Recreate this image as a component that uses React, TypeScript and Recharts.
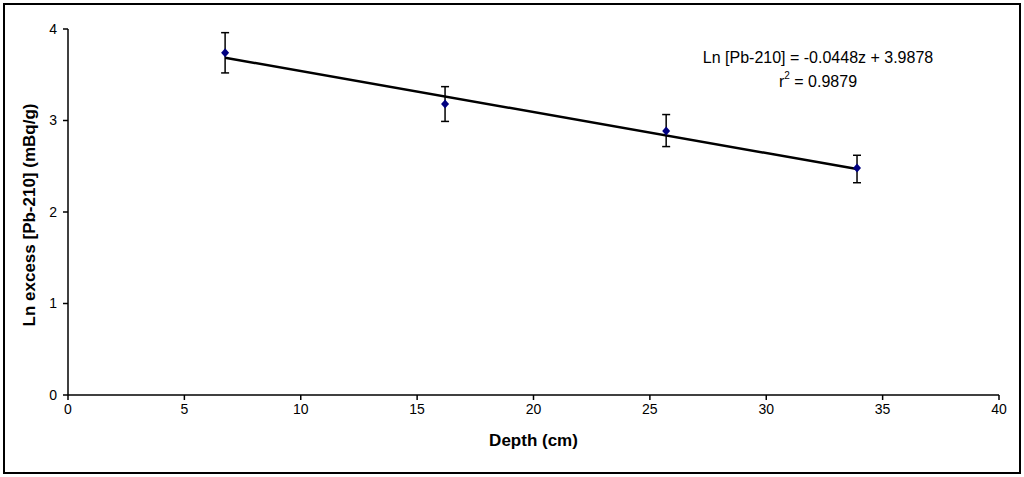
import { ScatterChart, Scatter, XAxis, YAxis, ZAxis, ErrorBar } from 'recharts'

// values
const depth = [6.75, 16.2, 25.7, 33.9]
const lnExcess = [3.74, 3.18, 2.885, 2.48]
const errLow = [0.22, 0.19, 0.17, 0.16]
const errHigh = [0.22, 0.19, 0.18, 0.14]

// regression line end points (Ln [Pb-210] = -0.0448z + 3.9878)
const trendDepth = [6.75, 33.9]
const trendLn = [3.686, 2.469]

const xTicks = [0, 5, 10, 15, 20, 25, 30, 35, 40]
const yTicks = [0, 1, 2, 3, 4]

const points = depth.map((d, i) => ({
  depth: d,
  ln: lnExcess[i],
  err: [errLow[i], errHigh[i]],
}))
const trend = trendDepth.map((d, i) => ({ depth: d, ln: trendLn[i] }))

const font = '"Liberation Sans", Arial, sans-serif'
const tick = { fill: '#000', fontSize: 14, fontFamily: font }

const Diamond = (props: any) => {
  const { cx, cy } = props
  return (
    <polygon
      points={`${cx},${cy - 4.5} ${cx + 4},${cy} ${cx},${cy + 4.5} ${cx - 4},${cy}`}
      fill="#000080"
    />
  )
}

export default function App() {
  return (
    <div style={{ position: 'absolute', left: 0, top: 0, width: 1024, height: 477, background: '#fff', fontFamily: font }}>
      <div
        style={{
          position: 'absolute',
          left: 3,
          top: 3,
          width: 1014,
          height: 467,
          border: '2px solid #000',
        }}
      />
      <ScatterChart
        width={1024}
        height={477}
        margin={{ top: 29, right: 25, bottom: 22, left: 20 }}
        style={{ position: 'absolute', left: 0, top: 0 }}
      >
        <XAxis
          type="number"
          dataKey="depth"
          domain={[0, 40]}
          ticks={xTicks}
          interval={0}
          height={60}
          tick={tick}
          tickSize={5}
          tickMargin={4}
          stroke="#000"
          strokeWidth={1.5}
          allowDataOverflow
          label={{
            value: 'Depth (cm)',
            position: 'insideBottom',
            offset: 9,
            style: { fill: '#000', fontSize: 17, fontWeight: 'bold', fontFamily: font },
          }}
        />
        <YAxis
          type="number"
          dataKey="ln"
          domain={[0, 4]}
          ticks={yTicks}
          interval={0}
          width={48}
          tick={tick}
          tickSize={5}
          tickMargin={6}
          stroke="#000"
          strokeWidth={1.5}
          allowDataOverflow
        />
        <ZAxis range={[40, 40]} />
        <Scatter
          data={trend}
          line={{ stroke: '#000', strokeWidth: 2.5 }}
          shape={() => <g />}
          isAnimationActive={false}
        />
        <Scatter data={points} shape={Diamond} isAnimationActive={false}>
          <ErrorBar dataKey="err" direction="y" width={4} stroke="#000" strokeWidth={1.5} />
        </Scatter>
      </ScatterChart>
      <div
        style={{
          position: 'absolute',
          left: 30,
          top: 215,
          transform: 'translate(-50%, -50%) rotate(-90deg)',
          whiteSpace: 'nowrap',
          fontSize: 17,
          fontWeight: 'bold',
          color: '#000',
        }}
      >
        Ln excess [Pb-210] (mBq/g)
      </div>
      <div
        style={{
          position: 'absolute',
          left: 818,
          top: 46,
          transform: 'translateX(-50%)',
          whiteSpace: 'nowrap',
          fontSize: 16,
          color: '#000',
          textAlign: 'center',
          lineHeight: '24px',
        }}
      >
        Ln [Pb-210] = -0.0448z + 3.9878
        <br />
        r<sup style={{ fontSize: 10, verticalAlign: 'top', lineHeight: '10px', position: 'relative', top: 1 }}>2</sup> = 0.9879
      </div>
    </div>
  )
}
